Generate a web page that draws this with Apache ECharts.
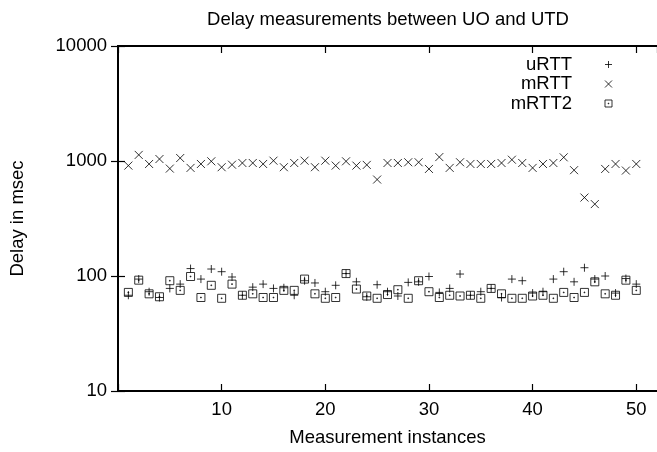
<!DOCTYPE html>
<html><head><meta charset="utf-8">
<script src="https://cdn.jsdelivr.net/npm/echarts@6/dist/echarts.min.js"></script>
<style>html,body{margin:0;padding:0;background:#fff}#c{width:657px;height:452px}</style>
</head><body><div id="c"></div>
<script>
const instances = [1,2,3,4,5,6,7,8,9,10,11,12,13,14,15,16,17,18,19,20,21,22,23,24,25,26,27,28,29,30,31,32,33,34,35,36,37,38,39,40,41,42,43,44,45,46,47,48,49,50];
const uRTT  = [68,94,73,65,78,85,116,94,115,109,98,68,80,85,78,79,68,91,87,73,83,105,89,66,84,73,67,88,89,99,72,78,104,68,73,78,65,94,91,71,73,94,109,89,118,94,100,71,95,85];
const mRTT  = [912,1130,942,1040,859,1061,871,942,994,883,929,961,961,942,1006,883,961,1006,883,1006,912,994,912,925,690,961,961,975,975,853,1082,871,975,942,942,942,961,1026,961,871,942,961,1076,832,481,422,853,942,826,942];
const mRTT2 = [72,92,70,66,91,75,99,65,83,64,85,68,70,65,65,75,75,94,70,64,65,105,77,67,64,69,76,64,91,73,65,68,67,68,64,78,70,64,64,67,68,64,72,65,72,89,70,68,92,75];
const xTickLabels = [10,20,30,40,50];
const yTickLabels = [10,100,1000,10000];
const seriesNames = ['uRTT','mRTT','mRTT2'];

const FONT = 'Liberation Sans, Arial, sans-serif';
const plusPath = 'path://M0,4L8,4M4,0L4,8';
const crossPath = 'path://M0,0L8,8M8,0L0,8';
const boxPath = 'path://M0,0L8,0L8,8L0,8ZM3.6,3.6L4.4,3.6L4.4,4.4L3.6,4.4Z';
const icons = [plusPath, crossPath, boxPath];

const pairs = arr => instances.map((x, i) => [x, arr[i]]);

const axisLine = {show: true, lineStyle: {color: '#000', width: 2}};
const axisTick = {show: true, inside: true, length: 7, lineStyle: {color: '#000', width: 1.2}};
const txt = {fontFamily: FONT, fontSize: 18.5, color: '#000'};

const chart = echarts.init(document.getElementById('c'), null, {renderer: 'canvas'});
chart.setOption({
  animation: false,
  backgroundColor: '#fff',
  title: {
    text: 'Delay measurements between UO and UTD',
    left: 388, top: 10, padding: 0, textAlign: 'center',
    textStyle: Object.assign({fontWeight: 'normal'}, txt)
  },
  legend: {
    orient: 'vertical', align: 'right', right: 44.5, top: 55,
    itemWidth: 7, itemHeight: 7, itemGap: 0.5, padding: 0,
    selectedMode: false,
    itemStyle: {color: 'transparent', borderColor: '#000', borderWidth: 1},
    textStyle: Object.assign({padding: [0, 28, 0, 0]}, txt),
    data: seriesNames.map((n, i) => ({name: n, icon: icons[i]}))
  },
  grid: {left: 117, top: 46, width: 542, height: 350, containLabel: false},
  xAxis: [
    {type: 'value', min: 0, max: 52, interval: 10, position: 'bottom',
     axisLine, axisTick, splitLine: {show: false},
     axisLabel: Object.assign({margin: 9, showMaxLabel: false,
       formatter: v => xTickLabels.includes(v) ? String(v) : ''}, txt),
     name: 'Measurement instances', nameLocation: 'middle', nameGap: 37, nameTextStyle: txt},
    {type: 'value', min: 0, max: 52, interval: 10, position: 'top',
     axisLine, axisTick, splitLine: {show: false}, axisLabel: {show: false}}
  ],
  yAxis: [
    {type: 'log', logBase: 10, min: 10, max: 10000, position: 'left',
     axisLine, axisTick, splitLine: {show: false}, minorTick: {show: false},
     axisLabel: Object.assign({margin: 11,
       formatter: v => { const r = Math.round(v); return yTickLabels.includes(r) ? String(r) : ''; }}, txt),
     name: 'Delay in msec', nameLocation: 'middle', nameGap: 91, nameTextStyle: txt},
    {type: 'log', logBase: 10, min: 10, max: 10000, position: 'right',
     axisLine, axisTick, splitLine: {show: false}, minorTick: {show: false}, axisLabel: {show: false}}
  ],
  series: [uRTT, mRTT, mRTT2].map((arr, i) => ({
    name: seriesNames[i], type: 'scatter', xAxisIndex: 0, yAxisIndex: 0,
    symbol: icons[i], symbolSize: 8, silent: true,
    itemStyle: {color: 'transparent', borderColor: '#000', borderWidth: 1},
    emphasis: {disabled: true},
    data: pairs(arr)
  }))
});
</script>
</body></html>
